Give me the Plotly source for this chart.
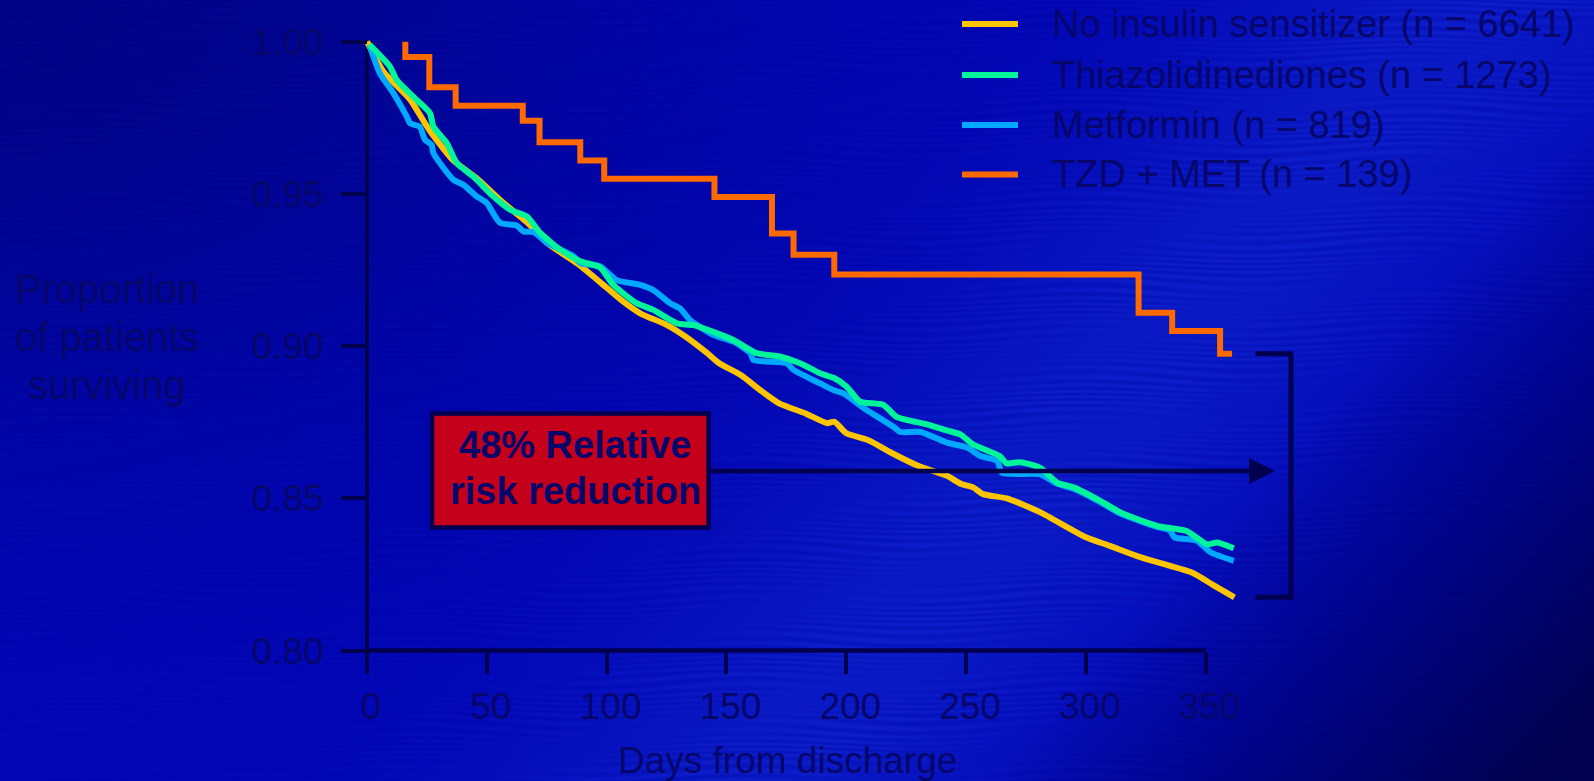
import base64
import struct
import zlib

import numpy as np
import plotly.graph_objects as go

# ---------------------------------------------------------------------------
# Survival after discharge, by insulin-sensitizer treatment
# ---------------------------------------------------------------------------
series_names = [
    "No insulin sensitizer (n = 6641)",
    "Thiazolidinediones (n = 1273)",
    "Metformin (n = 819)",
    "TZD + MET (n = 139)",
]

days_none = [0, 7, 18, 26, 36, 46, 57, 67, 75, 88, 97, 106, 114, 125, 133,
             142, 147, 156, 164, 172, 183, 192, 195, 200, 209, 220, 230, 242,
             248, 253, 257, 267, 281, 300, 310, 323, 344, 353, 362]
surv_none = [1.000, 0.990, 0.981, 0.971, 0.961, 0.955, 0.947, 0.9405, 0.934,
             0.927, 0.9212, 0.9152, 0.9108, 0.907, 0.9031, 0.8977, 0.8944,
             0.8905, 0.8856, 0.8812, 0.8779, 0.8747, 0.8752, 0.8714, 0.8692,
             0.8645, 0.8607, 0.8574, 0.8547, 0.8536, 0.8514, 0.850, 0.8454,
             0.8372, 0.8344, 0.8306, 0.8257, 0.8216, 0.8175]

days_tzd = [1, 9.6, 12.4, 20.7, 26.3, 27.7, 33.3, 37.5, 44.4, 52.7, 59.7, 66.7,
            72.3, 80.6, 89, 97.2, 102.8, 112.5, 119.5, 129.3, 136.2, 144.5,
            152.9, 162.6, 172.3, 180.7, 189, 194.7, 200.2, 205.7, 215.5, 221,
            233.7, 242, 247.6, 253, 264, 267, 272.7, 281, 288, 294.9, 306,
            314.4, 329.7, 342, 350.6, 354.8, 361.7]
surv_tzd = [0.999, 0.9918, 0.9874, 0.9809, 0.9765, 0.9721, 0.9667, 0.9601,
            0.9557, 0.9492, 0.9448, 0.9426, 0.9372, 0.9317, 0.9279, 0.9259,
            0.9201, 0.9141, 0.9119, 0.9075, 0.9069, 0.9047, 0.902, 0.8977,
            0.8966, 0.8944, 0.8911, 0.8896, 0.8867, 0.8818, 0.8807, 0.8768,
            0.8743, 0.8723, 0.871, 0.8677, 0.8639, 0.8615, 0.8619, 0.860,
            0.8552, 0.8536, 0.8492, 0.8454, 0.841, 0.8393, 0.8349, 0.8355,
            0.8336]

days_met = [1, 5.4, 11, 16.6, 18, 22, 24.2, 27, 27.7, 36, 40.2, 45.8, 50, 55.5,
            62.5, 65.3, 69.5, 75, 86.2, 89, 97.3, 104.2, 114, 119.5, 126.5,
            130.6, 134.8, 144.5, 152.9, 160, 161.2, 175.2, 178, 189, 194.6,
            198.8, 208.5, 219.7, 222.5, 231, 242, 250.4, 256, 263, 265, 281,
            288, 294.9, 306, 314.4, 329.7, 335, 337, 346.3, 352, 361.7]
surv_met = [0.999, 0.9896, 0.9831, 0.9754, 0.9732, 0.9721, 0.9678, 0.9661,
            0.9634, 0.9547, 0.953, 0.9492, 0.947, 0.9405, 0.9396, 0.9377,
            0.9375, 0.934, 0.9295, 0.9273, 0.9262, 0.9217, 0.9201, 0.9184,
            0.9141, 0.9124, 0.9086, 0.9037, 0.9015, 0.8977, 0.8955, 0.8944,
            0.8922, 0.8878, 0.8856, 0.8845, 0.879, 0.8735, 0.8718, 0.8718,
            0.8683, 0.8667, 0.8639, 0.8623, 0.8584, 0.8579, 0.8548, 0.8532,
            0.8488, 0.845, 0.8406, 0.8395, 0.8372, 0.8361, 0.8323, 0.8295]

# Kaplan-Meier steps for the combination group
days_combo = [16, 16, 26, 37, 65, 72, 89, 99, 145, 169, 178, 195, 322, 336,
              356, 361]
surv_combo = [1.000, 0.995, 0.985, 0.979, 0.974, 0.967, 0.961, 0.955, 0.949,
              0.937, 0.930, 0.9235, 0.911, 0.905, 0.8975, 0.8975]

x_ticks = [0, 50, 100, 150, 200, 250, 300, 350]
y_ticks = [0.80, 0.85, 0.90, 0.95, 1.00]

callout_lines = ["48% Relative", "risk reduction"]
y_title_lines = ["Proportion", "of patients", "surviving"]
x_title = "Days from discharge"

# ---------------------------------------------------------------------------
# Styling
# ---------------------------------------------------------------------------
W, H = 1594, 781
L, R, T, B = 300, 294, 20, 81
PW, PH = W - L - R, H - T - B

FONT = "Arial, 'Liberation Sans', sans-serif"
TEXT = "#06066b"
INK = "#00004f"
COLORS = ["#ffc400", "#00f59a", "#00a8ff", "#ff6a00"]

# axis calibration (pixel positions of the tick values)
X0_PX, X350_PX = 367.0, 1205.7
Y100_PX, Y080_PX = 41.7, 650.6
sx = (X350_PX - X0_PX) / 350.0
sy = (Y080_PX - Y100_PX) / 0.20


def px2x(px):
    return (px - X0_PX) / sx


def py2y(py):
    return 1.00 - (py - Y100_PX) / sy


def px2paper(px):
    return (px - L) / PW


def py2paper(py):
    return 1.0 - (py - T) / PH


x_range = [px2x(L), px2x(L + PW)]
y_range = [py2y(T + PH), py2y(T)]


# ---------------------------------------------------------------------------
# Slide-style blue background, written as a small PNG
# ---------------------------------------------------------------------------
def background_rgb(w, h):
    yy, xx = np.mgrid[0:h, 0:w].astype(float)
    X = xx * (W / w)
    Y = yy * (H / h)
    base = np.array([2.0, 6.0, 182.0])
    img = np.ones((h, w, 3)) * base
    # darker upper-left corner
    dk = np.exp(-((X / 650.0) ** 2 + (Y / 420.0) ** 2)) * 0.26
    img *= (1 - dk)[..., None]
    # soft diagonal sheen
    s = (X - 760) * 0.735 + (Y - 781) * 0.678
    band = np.exp(-(s / 200.0) ** 2) * 0.45
    bright = np.array([20.0, 50.0, 214.0])
    img = img * (1 - band)[..., None] + bright * band[..., None]
    # faint brushed texture, stronger inside the sheen
    streak = (np.sin(Y * 0.9 + np.sin(X / 53.0) * 3.0 + np.sin(Y / 7.0) * 2.0)
              * np.sin(X / 140.0 + Y / 31.0))
    amp = 2.0 + 5.0 * np.exp(-(s / 220.0) ** 2)
    img += (streak * amp)[..., None] * np.array([0.4, 0.7, 1.0])
    # fade to deep navy on the far right
    d = np.clip((s - 160) / 400.0, 0, 1) * 0.85
    deep = np.array([0.0, 0.0, 62.0])
    img = img * (1 - d)[..., None] + deep * d[..., None]
    return np.clip(img, 0, 255).astype(np.uint8)


def png_data_uri(rgb):
    h, w, _ = rgb.shape
    raw = b"".join(b"\x00" + rgb[i].tobytes() for i in range(h))

    def chunk(tag, data):
        body = tag + data
        return (struct.pack(">I", len(data)) + body
                + struct.pack(">I", zlib.crc32(body) & 0xFFFFFFFF))

    png = (b"\x89PNG\r\n\x1a\n"
           + chunk(b"IHDR", struct.pack(">IIBBBBB", w, h, 8, 2, 0, 0, 0))
           + chunk(b"IDAT", zlib.compress(raw, 9))
           + chunk(b"IEND", b""))
    return "data:image/png;base64," + base64.b64encode(png).decode()


bg_uri = png_data_uri(background_rgb(W, H))

# ---------------------------------------------------------------------------
# Figure
# ---------------------------------------------------------------------------
fig = go.Figure()

curves = [
    (days_none, surv_none, 0, "spline"),
    (days_met, surv_met, 2, "spline"),
    (days_tzd, surv_tzd, 1, "spline"),
    (days_combo, surv_combo, 3, "hv"),
]
for xs, ys, idx, shape in curves:
    line = dict(color=COLORS[idx], width=6, shape=shape)
    if shape == "spline":
        line["smoothing"] = 0.6
    fig.add_trace(go.Scatter(
        x=xs, y=ys, mode="lines", name=series_names[idx], line=line,
        showlegend=False, hoverinfo="skip",
    ))

shapes = [
    # axis lines
    dict(type="line", xref="x", yref="y", x0=0, x1=0, y0=y_ticks[0],
         y1=y_ticks[-1], line=dict(color=INK, width=4), layer="below"),
    dict(type="line", xref="x", yref="y", x0=0, x1=x_ticks[-1],
         y0=y_ticks[0], y1=y_ticks[0], line=dict(color=INK, width=4.5),
         layer="below"),
    # bracket spanning the one-year survival of the extreme groups
    dict(type="path", xref="x", yref="y",
         path=(f"M {px2x(1255.5)},{surv_combo[-1]} L {px2x(1291)},{surv_combo[-1]} "
               f"L {px2x(1291)},{surv_none[-1]} L {px2x(1255.5)},{surv_none[-1]}"),
         line=dict(color=INK, width=5)),
    # call-out box
    dict(type="rect", xref="x", yref="y", x0=px2x(432), x1=px2x(708.6),
         y0=py2y(527.5), y1=py2y(413.5), fillcolor="#c4001a",
         line=dict(color=INK, width=4.5)),
]

# legend keys
leg_rows = [24.0, 75.0, 125.0, 174.5]
for i, yy in enumerate(leg_rows):
    shapes.append(dict(type="line", xref="paper", yref="paper",
                       x0=px2paper(962), x1=px2paper(1018),
                       y0=py2paper(yy), y1=py2paper(yy),
                       line=dict(color=COLORS[i], width=6)))

annotations = []
for i, yy in enumerate(leg_rows):
    annotations.append(dict(
        text=series_names[i], xref="paper", yref="paper",
        x=px2paper(1050), y=py2paper(yy), xanchor="left", yanchor="middle",
        showarrow=False, font=dict(family=FONT, size=38, color=TEXT)))

for line, yy in zip(y_title_lines, [289, 337, 385]):
    annotations.append(dict(
        text=line, xref="paper", yref="paper", x=px2paper(107),
        y=py2paper(yy), xanchor="center", yanchor="middle", showarrow=False,
        font=dict(family=FONT, size=40, color=TEXT)))

annotations.append(dict(
    text=x_title, xref="paper", yref="paper", x=px2paper(787),
    y=py2paper(761), xanchor="center", yanchor="middle", showarrow=False,
    font=dict(family=FONT, size=37, color=TEXT)))

for line, yy in zip(callout_lines, [445, 490.5]):
    annotations.append(dict(
        text=f"<b>{line}</b>", xref="paper", yref="paper", x=px2paper(575),
        y=py2paper(yy), xanchor="center", yanchor="middle", showarrow=False,
        font=dict(family=FONT, size=38, color=TEXT)))

# arrow from the call-out to the bracket
annotations.append(dict(
    text="", x=px2x(1275), y=py2y(471), xref="x", yref="y",
    ax=-(1275 - 708.6), ay=0, showarrow=True, arrowhead=2, arrowsize=1.15,
    arrowwidth=4.5, arrowcolor=INK, standoff=0))

fig.update_layout(
    width=W, height=H,
    margin=dict(l=L, r=R, t=T, b=B, pad=0),
    paper_bgcolor="#0206b4",
    plot_bgcolor="rgba(0,0,0,0)",
    showlegend=False,
    shapes=shapes,
    annotations=annotations,
    images=[dict(source=bg_uri, xref="paper", yref="paper",
                 x=px2paper(0), y=py2paper(0), sizex=W / PW, sizey=H / PH,
                 xanchor="left", yanchor="top", sizing="stretch",
                 layer="below")],
    xaxis=dict(
        range=x_range, anchor="free", position=(T + PH - Y080_PX) / PH,
        tickvals=x_ticks, ticktext=[str(v) for v in x_ticks],
        ticks="outside", ticklen=22, tickwidth=4, tickcolor=INK,
        showline=False, showgrid=False, zeroline=False,
        tickfont=dict(family=FONT, size=37, color=TEXT),
        ticklabelstandoff=1, ticklabelshift=4, fixedrange=True,
    ),
    yaxis=dict(
        range=y_range, anchor="free", position=(X0_PX - L) / PW,
        tickvals=y_ticks, ticktext=[f"{v:.2f}" for v in y_ticks],
        ticks="outside", ticklen=26, tickwidth=4, tickcolor=INK,
        showline=False, showgrid=False, zeroline=False,
        tickfont=dict(family=FONT, size=37, color=TEXT),
        ticklabelstandoff=10, fixedrange=True,
    ),
)

fig.write_html("out.html")
